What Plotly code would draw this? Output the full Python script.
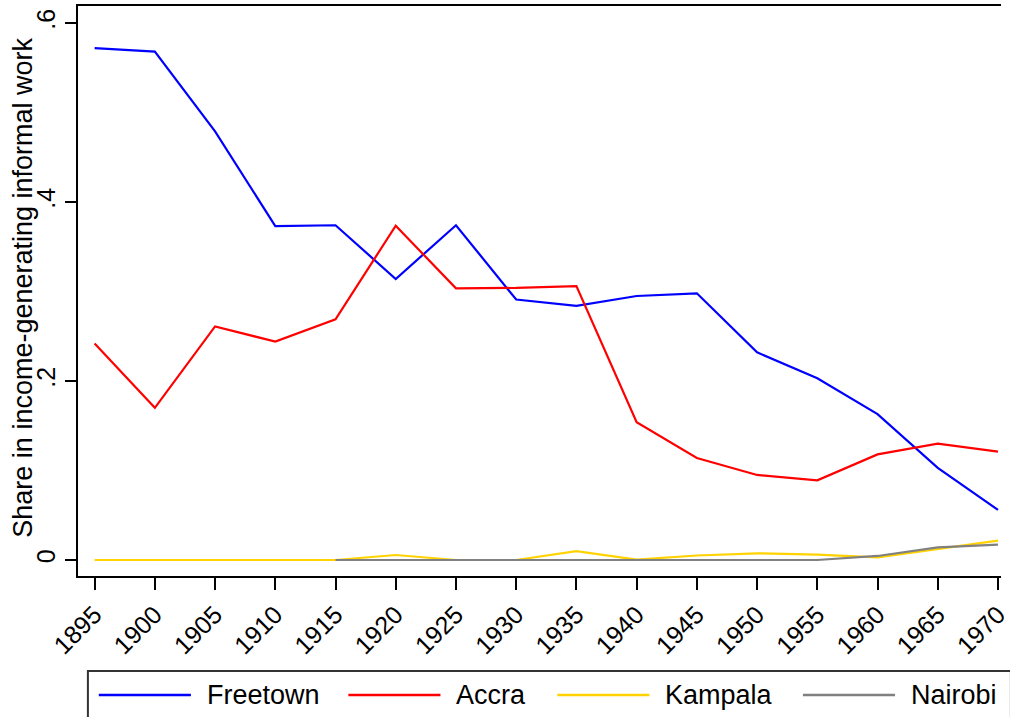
import plotly.graph_objects as go

years = [1895, 1900, 1905, 1910, 1915, 1920, 1925, 1930, 1935, 1940, 1945, 1950, 1955, 1960, 1965, 1970]
freetown = [0.572, 0.568, 0.479, 0.373, 0.374, 0.314, 0.374, 0.291, 0.284, 0.295, 0.298, 0.232, 0.203, 0.163, 0.103, 0.056]
accra = [0.242, 0.170, 0.261, 0.244, 0.269, 0.3735, 0.3035, 0.304, 0.306, 0.154, 0.114, 0.095, 0.089, 0.118, 0.130, 0.121]
kampala = [0.0, 0.0, 0.0, 0.0, 0.0, 0.0056, 0.0, 0.0, 0.010, 0.0005, 0.005, 0.0075, 0.006, 0.003, 0.012, 0.0216]
nairobi_years = [1915, 1920, 1925, 1930, 1935, 1940, 1945, 1950, 1955, 1960, 1965, 1970]
nairobi = [0.0, 0.0, 0.0, 0.0, 0.0, 0.0, 0.0, 0.0, 0.0, 0.0045, 0.014, 0.0172]

y_ticks = [0, 0.2, 0.4, 0.6]
y_tick_labels = ["0", ".2", ".4", ".6"]
x_ticks = years
y_title = "Share in income-generating informal work"

series = [
    ("Freetown", years, freetown, "#0000FF"),
    ("Accra", years, accra, "#FF0000"),
    ("Kampala", years, kampala, "#FFD200"),
    ("Nairobi", nairobi_years, nairobi, "#808080"),
]

FONT = "Liberation Sans, Arial, sans-serif"
W, H = 1010, 717
L, T, R, B = 78, 6, 0, 141
pw, ph = W - L - R, H - T - B

fig = go.Figure()
for name, xs, ys, col in series:
    fig.add_trace(go.Scatter(x=xs, y=ys, mode="lines", name=name,
                             line=dict(color=col, width=2.2), showlegend=False))

fig.update_layout(
    width=W, height=H,
    margin=dict(l=L, r=R, t=T, b=B, pad=0),
    plot_bgcolor="white", paper_bgcolor="white",
    font=dict(family=FONT, color="black"),
    xaxis=dict(range=[1893.62, 1970.25], tickvals=x_ticks, ticktext=[str(v) for v in x_ticks],
               tickangle=-45, ticks="outside", ticklen=12, tickwidth=2, tickcolor="black",
               ticklabeloverflow="allow",
               showline=True, linecolor="black", linewidth=2, mirror=True,
               showgrid=False, zeroline=False, tickfont=dict(size=25, family=FONT)),
    yaxis=dict(range=[-0.01788, 0.619], tickvals=y_ticks, ticktext=y_tick_labels,
               tickangle=-90, ticks="outside", ticklen=11, tickwidth=2, tickcolor="black",
               showline=True, linecolor="black", linewidth=2, mirror=False,
               showgrid=False, zeroline=False, tickfont=dict(size=25, family=FONT)),
)

# y-axis title
fig.add_annotation(text=y_title, xref="paper", yref="paper",
                   x=-(L - 23) / pw, y=0.505, xanchor="center", yanchor="middle",
                   textangle=-90, showarrow=False, font=dict(size=27, family=FONT))

# legend box (Stata-style, bottom)
def px_x(p):
    return (p - L) / pw

def px_y(p):
    return (H - B - p) / ph

fig.add_shape(type="rect", xref="paper", yref="paper",
              x0=px_x(88), x1=px_x(1020), y0=px_y(730), y1=px_y(671),
              line=dict(color="#333333", width=2), fillcolor="rgba(0,0,0,0)")

leg_line_x = [99, 351, 562, 810]
leg_line_len = 93
leg_text_gap = 14
leg_y = 695
for (name, xs, ys, col), lx in zip(series, leg_line_x):
    fig.add_shape(type="line", xref="paper", yref="paper",
                  x0=px_x(lx), x1=px_x(lx + leg_line_len), y0=px_y(leg_y), y1=px_y(leg_y),
                  line=dict(color=col, width=2.5))
    fig.add_annotation(text=name, xref="paper", yref="paper",
                       x=px_x(lx + leg_line_len + leg_text_gap), y=px_y(leg_y),
                       xanchor="left", yanchor="middle", showarrow=False,
                       font=dict(size=27, family=FONT, color="black"))

fig.write_html("out.html", config={"displayModeBar": False},
               post_script="document.body.style.margin='0';document.body.style.overflow='hidden';")
